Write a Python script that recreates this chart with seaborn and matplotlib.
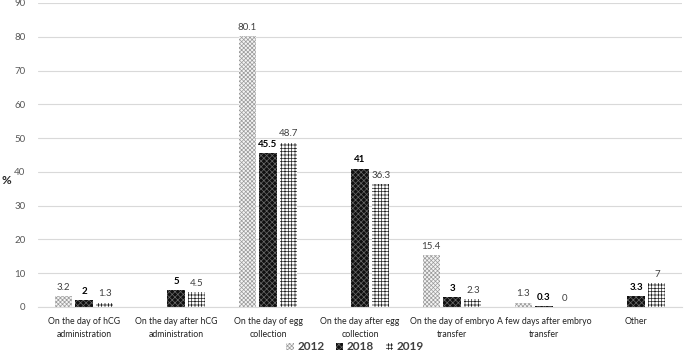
import numpy as np
import pandas as pd
import matplotlib
matplotlib.use("Agg")
import matplotlib.pyplot as plt
import seaborn as sns
from matplotlib.patches import Patch

categories = ["On the day of hCG\nadministration", "On the day after hCG\nadministration",
              "On the day of egg\ncollection", "On the day after egg\ncollection",
              "On the day of embryo\ntransfer", "A few days after embryo\ntransfer", "Other"]
years = ["2012", "2018", "2019"]
v2012 = [3.2, np.nan, 80.1, np.nan, 15.4, 1.3, np.nan]
v2018 = [2, 5, 45.5, 41, 3, 0.3, 3.3]
v2019 = [1.3, 4.5, 48.7, 36.3, 2.3, 0, 7]
yticks = [0, 10, 20, 30, 40, 50, 60, 70, 80, 90]

sns.set_style("white")
plt.rcParams['font.family'] = ['Lato', 'DejaVu Sans']
plt.rcParams['hatch.linewidth'] = 0.5

rows = []
for y, vals in zip(years, [v2012, v2018, v2019]):
    for c, v in zip(categories, vals):
        rows.append({"cat": c, "year": y, "val": 0.0 if np.isnan(v) else v})
df = pd.DataFrame(rows)

fig = plt.figure(figsize=(6.85, 3.54), dpi=100)
ax = fig.add_axes([38/685, 1-307/354, 644/685, 304/354])

sns.barplot(data=df, x="cat", y="val", hue="year", order=categories, hue_order=years,
            width=0.68, gap=0.18, ax=ax, legend=False)

styles = {
    "2012": dict(fc="#f4f4f4", ec="#9a9a9a", hatch="xxxxxxxx"),
    "2018": dict(fc="#101010", ec="#6a6a6a", hatch="xxxxxx"),
    "2019": dict(fc="white", ec="#222222", hatch="+++++"),
}
data = {"2012": v2012, "2018": v2018, "2019": v2019}
for cont, y in zip(ax.containers, years):
    st = styles[y]
    for p in cont.patches:
        p.set_facecolor(st["fc"])
        p.set_edgecolor(st["ec"])
        p.set_hatch(st["hatch"])
        p.set_linewidth(0)
    labels = ["" if np.isnan(v) else f"{v:g}" for v in data[y]]
    if y == "2018":
        ax.bar_label(cont, labels=labels, padding=3, fontsize=7, fontweight="bold", color="black")
    else:
        ax.bar_label(cont, labels=labels, padding=3, fontsize=7, color="#404040")

ax.set_xlim(-0.5, 6.5)
ax.set_ylim(0, 90)
ax.set_yticks(yticks)
ax.set_yticklabels([str(t) for t in yticks], fontsize=7, color="#595959")
ax.yaxis.grid(True, color="#d9d9d9", linewidth=0.8)
ax.set_axisbelow(True)
for s in ["top", "right", "left"]:
    ax.spines[s].set_visible(False)
ax.spines["bottom"].set_color("#d9d9d9")
ax.tick_params(axis="y", length=0, pad=9)
ax.tick_params(axis="x", length=0, pad=7)
ax.set_xticks(range(len(categories)))
ax.set_xticklabels(categories, fontsize=6.3, color="#222222", linespacing=1.6)
ax.set_xlabel("")
ax.set_ylabel("")
fig.text(1/685, 1-180/354, "%", fontsize=8.5, fontweight="bold", va="center", ha="left")

handles = [Patch(facecolor=styles[y]["fc"], edgecolor=styles[y]["ec"], hatch=styles[y]["hatch"], linewidth=0, label=y) for y in years]
leg = fig.legend(handles=handles, loc="center", bbox_to_anchor=(355/685, 1-347/354), ncol=3,
                 frameon=False, fontsize=8.5, handlelength=0.6, handleheight=0.6,
                 handletextpad=0.3, columnspacing=1.0)
for t in leg.get_texts():
    t.set_fontweight("bold")
    t.set_color("#404040")

fig.savefig("out.png", dpi=100)
